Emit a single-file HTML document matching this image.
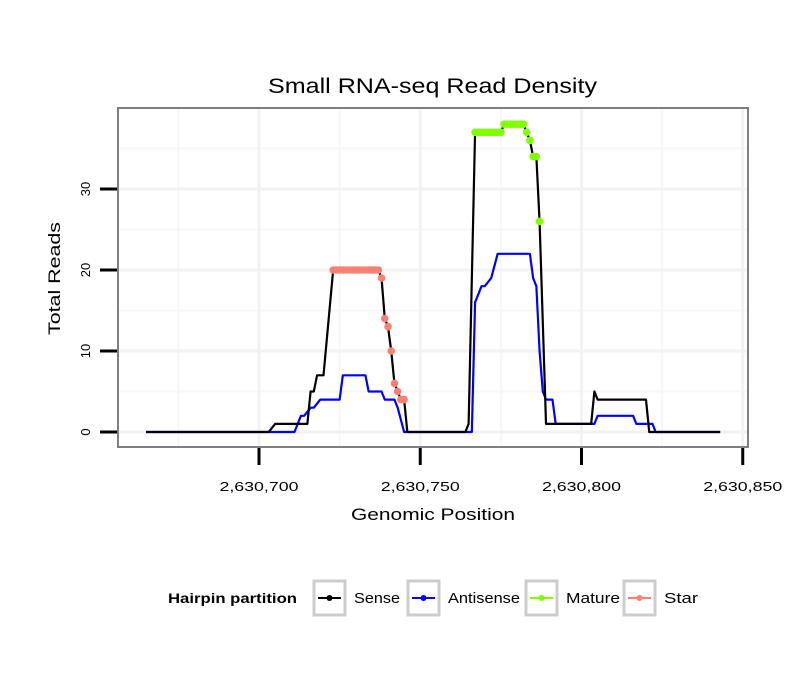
<!DOCTYPE html>
<html><head><meta charset="utf-8"><style>
body{margin:0;background:#fff;font-family:"Liberation Sans",sans-serif;}
svg text{font-family:"Liberation Sans",sans-serif;}
</style></head><body>
<svg id="chart" width="810" height="690">
<rect width="810" height="690" fill="#fff"/>
<text x="268" y="93" font-size="21" textLength="329" lengthAdjust="spacingAndGlyphs">Small RNA-seq Read Density</text>
<g id="grid"></g>
<rect x="118" y="108" width="630" height="339" fill="none" stroke="#7f7f7f" stroke-width="2"/>
<g id="axes"></g>
<g id="series"></g>
<text x="351" y="520" font-size="17" textLength="164" lengthAdjust="spacingAndGlyphs">Genomic Position</text>
<text transform="translate(60,335) rotate(-90)" font-size="17" textLength="113" lengthAdjust="spacingAndGlyphs">Total Reads</text>
<g>
<text x="168" y="603" font-size="14" font-weight="bold" textLength="129" lengthAdjust="spacingAndGlyphs">Hairpin partition</text>
<g><rect x="314" y="581" width="31" height="34" fill="#fff" stroke="#ccc" stroke-width="3"/><line x1="318" y1="598" x2="341" y2="598" stroke="#000" stroke-width="2"/><circle cx="329.5" cy="598" r="3" fill="#000"/><text x="354" y="603" font-size="15" textLength="46" lengthAdjust="spacingAndGlyphs">Sense</text></g>
<g><rect x="408" y="581" width="31" height="34" fill="#fff" stroke="#ccc" stroke-width="3"/><line x1="412" y1="598" x2="435" y2="598" stroke="#0000ff" stroke-width="2"/><circle cx="423.5" cy="598" r="3" fill="#0000ff"/><text x="448" y="603" font-size="15" textLength="72" lengthAdjust="spacingAndGlyphs">Antisense</text></g>
<g><rect x="526" y="581" width="31" height="34" fill="#fff" stroke="#ccc" stroke-width="3"/><line x1="530" y1="598" x2="553" y2="598" stroke="#7fff00" stroke-width="2"/><circle cx="541.5" cy="598" r="3" fill="#7fff00"/><text x="566" y="603" font-size="15" textLength="54" lengthAdjust="spacingAndGlyphs">Mature</text></g>
<g><rect x="624" y="581" width="31" height="34" fill="#fff" stroke="#ccc" stroke-width="3"/><line x1="628" y1="598" x2="651" y2="598" stroke="#fa8072" stroke-width="2"/><circle cx="639.5" cy="598" r="3" fill="#fa8072"/><text x="664" y="603" font-size="15" textLength="34" lengthAdjust="spacingAndGlyphs">Star</text></g>
</g>
</svg>
<script>
const base = 2630700;
const xTicks = [2630700, 2630750, 2630800, 2630850];
const xTickLabels = ["2,630,700", "2,630,750", "2,630,800", "2,630,850"];
const yTicks = [0, 10, 20, 30];
const sensePos = [-35,3,5,15,16,17,18,20,23,37,38,39,40,41,42,43,44,45,46,64,65,67,75,76,82,83,84,85,86,87,89,103,104,105,120,121,143];
const senseVal = [0,0,1,1,5,5,7,7,20,20,19,14,13,10,6,5,4,4,0,0,1,37,37,38,38,37,36,34,34,26,1,1,5,4,4,0,0];
const antiPos = [-35,11,13,14,16,17,19,25,26,33,34,38,39,42,43,45,66,67,69,70,72,74,84,85,86,87,88,89,91,92,104,105,116,117,122,123,143];
const antiVal = [0,0,2,2,3,3,4,4,7,7,5,5,4,4,3,0,0,16,18,18,19,22,22,19,18,10,5,4,4,1,1,2,2,1,1,0,0];
const starPos = [23,24,25,26,27,28,29,30,31,32,33,34,35,36,37,38,39,40,41,42,43,44,45];
const starVal = [20,20,20,20,20,20,20,20,20,20,20,20,20,20,20,19,14,13,10,6,5,4,4];
const maturePos = [67,68,69,70,71,72,73,74,75,76,77,78,79,80,81,82,83,84,85,86,87];
const matureVal = [37,37,37,37,37,37,37,37,37,38,38,38,38,38,38,38,37,36,34,34,26];

const X = o => 259 + o * 3.225;
const XG = g => X(g - base);
const Y = v => 432 - v * 8.1;
const NS = "http://www.w3.org/2000/svg";
function mk(tag, attrs, parent){const e=document.createElementNS(NS,tag);for(const k in attrs)e.setAttribute(k,attrs[k]);parent.appendChild(e);return e;}
const grid=document.getElementById('grid'), axes=document.getElementById('axes'), series=document.getElementById('series');
mk('rect',{x:118,y:108,width:630,height:339,fill:'#fff'},grid);
for(let i=0;i<xTicks.length-1;i++){const m=(XG(xTicks[i])+XG(xTicks[i+1]))/2;const l=mk('line',{x1:m,x2:m,y1:108,y2:447,stroke:'#f7f7f7','stroke-width':2},grid);}
{const m=XG(xTicks[0])-80.6;const l=mk('line',{x1:m,x2:m,y1:108,y2:447,stroke:'#f7f7f7','stroke-width':2},grid);}
for(let i=0;i<yTicks.length;i++){const m=Y(yTicks[i]+5);const l=mk('line',{x1:118,x2:748,y1:m,y2:m,stroke:'#f7f7f7','stroke-width':2},grid);}
xTicks.forEach((t,i)=>{const x=XG(t);
 if(x<748){const g=mk('line',{x1:x,x2:x,y1:108,y2:447,stroke:'#f2f2f2','stroke-width':3},grid);}
 const tk=mk('line',{x1:x,x2:x,y1:448,y2:465,stroke:'#000','stroke-width':3},axes);
 const tx=mk('text',{x:x-39.5,y:491,'font-size':13,textLength:79,lengthAdjust:'spacingAndGlyphs'},axes);tx.textContent=xTickLabels[i];});
yTicks.forEach(t=>{const y=Y(t);
 const g=mk('line',{x1:118,x2:748,y1:y,y2:y,stroke:'#f2f2f2','stroke-width':3},grid);
 const tk=mk('line',{x1:100,x2:117,y1:y,y2:y,stroke:'#000','stroke-width':3},axes);
 const tx=mk('text',{transform:`translate(90,${y}) rotate(-90)`,'font-size':13,'text-anchor':'middle'},axes);tx.textContent=t;});
function line(pos,val,color,name){const p=pos.map((o,i)=>X(o)+','+Y(val[i])).join(' ');const l=mk('polyline',{points:p,fill:'none',stroke:color,'stroke-width':2.2,'stroke-linejoin':'round'},series);}
line(antiPos,antiVal,'#0000ff','antisense-line');
line(sensePos,senseVal,'#000','sense-line');
function pts(pos,val,color,name){pos.forEach((o,i)=>{const c=mk('circle',{cx:X(o),cy:Y(val[i]),r:3.8,fill:color},series);});}
pts(starPos,starVal,'#fa8072','star-point');
pts(maturePos,matureVal,'#7fff00','mature-point');
</script>
</body></html>
